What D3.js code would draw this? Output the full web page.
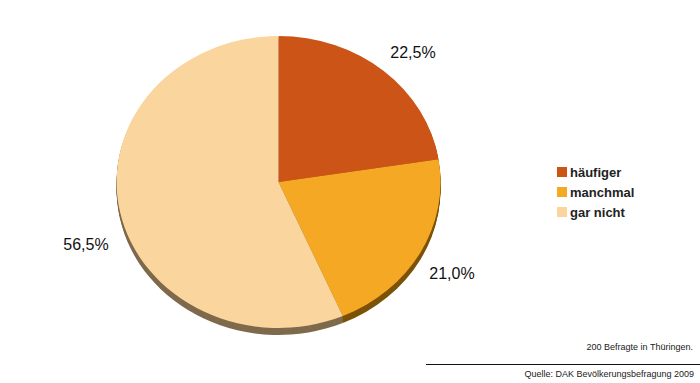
<!DOCTYPE html>
<html><head><meta charset="utf-8">
<script src="https://cdn.jsdelivr.net/npm/d3@7"></script>
<style>body{margin:0;background:#fff}svg{display:block}</style>
</head><body>
<script>
const categories = ["häufiger", "manchmal", "gar nicht"];
const values = [22.5, 21.0, 56.5];
const labels = ["22,5%", "21,0%", "56,5%"];
const topColors = ["#CC5416", "#F5A823", "#FAD59E"];
const sideColors = ["#6E2C0A", "#7C5206", "#7F6A4C"];
const footer1 = "200 Befragte in Thüringen.";
const footer2 = "Quelle: DAK Bevölkerungsbefragung 2009";

const W = 700, H = 383;
const svg = d3.select("body").append("svg").attr("width", W).attr("height", H);

const cx = 278.5, cy = 182, rx = 162, ry = 146, depth = 7;
const pie = d3.pie().sort(null).value(d => d)(values);
const arc = d3.arc().innerRadius(0).outerRadius(1);

// side extrusion
for (let i = depth; i >= 1; i--) {
  const g = svg.append("g").attr("transform", `translate(${cx},${cy + i}) scale(${rx},${ry})`);
  g.selectAll("path").data(pie).join("path")
    .attr("d", arc).attr("fill", (d, j) => sideColors[j]);
}
// top face
const gt = svg.append("g").attr("transform", `translate(${cx},${cy}) scale(${rx},${ry})`);
gt.selectAll("path").data(pie).join("path")
  .attr("d", arc).attr("fill", (d, j) => topColors[j]);

// labels
const lpos = [[413, 58], [452, 279], [86, 250]];
svg.selectAll("text.lbl").data(pie).join("text")
  .attr("class", "lbl")
  .attr("x", (d, i) => lpos[i][0])
  .attr("y", (d, i) => lpos[i][1])
  .attr("text-anchor", "middle")
  .attr("font-family", "Liberation Sans, Arial, sans-serif")
  .attr("font-size", 16)
  .attr("fill", "#111")
  .text((d, i) => labels[i]);

// legend
const leg = svg.append("g").attr("transform", "translate(557,167)");
categories.forEach((c, i) => {
  leg.append("rect").attr("x", 0).attr("y", i * 20).attr("width", 10).attr("height", 10).attr("fill", topColors[i]);
  leg.append("text").attr("x", 13).attr("y", i * 20 + 9.5)
    .attr("font-family", "Liberation Sans, Arial, sans-serif")
    .attr("font-size", 13).attr("font-weight", "bold").attr("fill", "#222").text(c);
});

// footer
svg.append("text").attr("x", 693).attr("y", 350).attr("text-anchor", "end")
  .attr("font-family", "Liberation Sans, Arial, sans-serif").attr("font-size", 9).attr("fill", "#222").text(footer1);
svg.append("line").attr("x1", 426).attr("x2", 700).attr("y1", 364.5).attr("y2", 364.5)
  .attr("stroke", "#111").attr("stroke-width", 1);
svg.append("text").attr("x", 694).attr("y", 377).attr("text-anchor", "end")
  .attr("font-family", "Liberation Sans, Arial, sans-serif").attr("font-size", 9).attr("fill", "#222").text(footer2);
</script>
</body></html>
